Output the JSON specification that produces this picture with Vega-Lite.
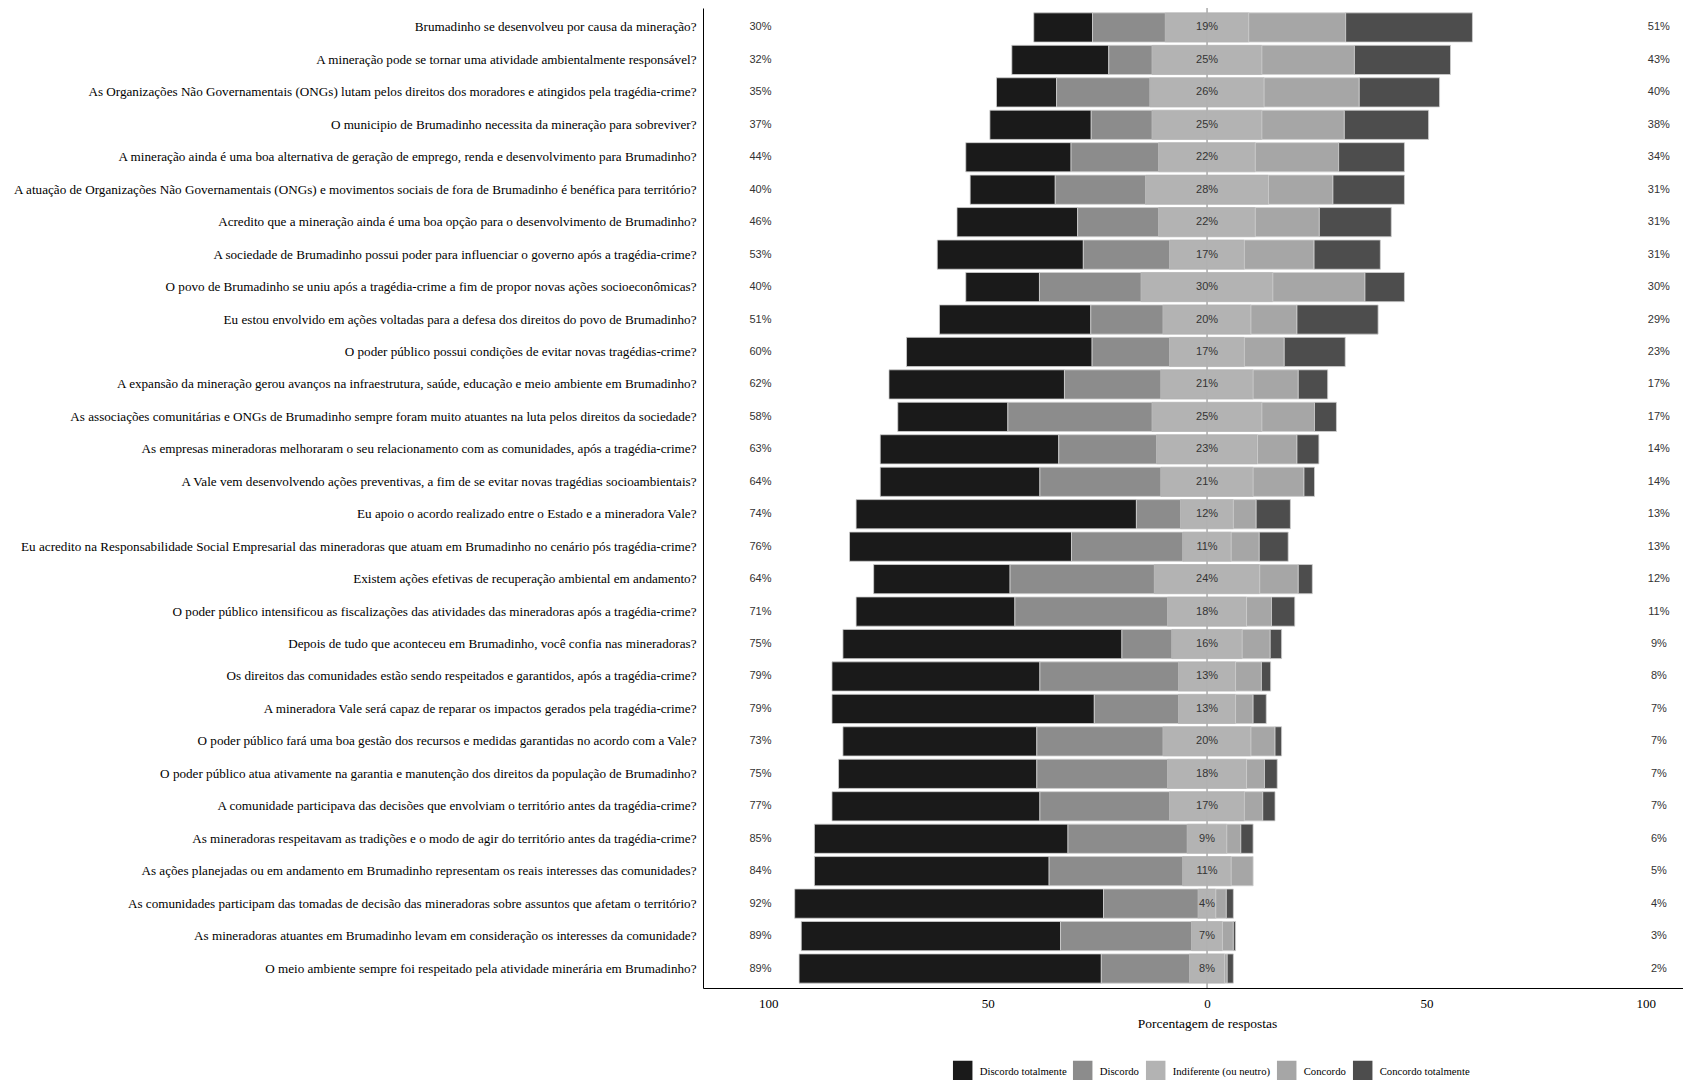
{
  "$schema": "https://vega.github.io/schema/vega-lite/v6.json",
  "width": 980,
  "height": 980,
  "autosize": {"type": "none"},
  "padding": {"left": 703, "top": 8, "right": 0, "bottom": 92},
  "background": "white",
  "config": {"view": {"stroke": null}, "font": "Liberation Serif"},
  "datasets": {
    "niveis": [
      {"n": 1, "r": "Discordo totalmente"},
      {"n": 2, "r": "Discordo"},
      {"n": 3, "r": "Indiferente (ou neutro)"},
      {"n": 4, "r": "Concordo"},
      {"n": 5, "r": "Concordo totalmente"}
    ],
    "questoes": [
      {"id": 1, "q": "Brumadinho se desenvolveu por causa da mineração?", "esq": "30%", "neu": "19%", "dir": "51%"},
      {"id": 2, "q": "A mineração pode se tornar uma atividade ambientalmente responsável?", "esq": "32%", "neu": "25%", "dir": "43%"},
      {"id": 3, "q": "As Organizações Não Governamentais (ONGs) lutam pelos direitos dos moradores e atingidos pela tragédia-crime?", "esq": "35%", "neu": "26%", "dir": "40%"},
      {"id": 4, "q": "O municipio de Brumadinho necessita da mineração para sobreviver?", "esq": "37%", "neu": "25%", "dir": "38%"},
      {"id": 5, "q": "A mineração ainda é uma boa alternativa de geração de emprego, renda e desenvolvimento para Brumadinho?", "esq": "44%", "neu": "22%", "dir": "34%"},
      {"id": 6, "q": "A atuação de Organizações Não Governamentais (ONGs) e movimentos sociais de fora de Brumadinho é benéfica para território?", "esq": "40%", "neu": "28%", "dir": "31%"},
      {"id": 7, "q": "Acredito que a mineração ainda é uma boa opção para o desenvolvimento de Brumadinho?", "esq": "46%", "neu": "22%", "dir": "31%"},
      {"id": 8, "q": "A sociedade de Brumadinho possui poder para influenciar o governo após a tragédia-crime?", "esq": "53%", "neu": "17%", "dir": "31%"},
      {"id": 9, "q": "O povo de Brumadinho se uniu após a tragédia-crime a fim de propor novas ações socioeconômicas?", "esq": "40%", "neu": "30%", "dir": "30%"},
      {"id": 10, "q": "Eu estou envolvido em ações voltadas para a defesa dos direitos do povo de Brumadinho?", "esq": "51%", "neu": "20%", "dir": "29%"},
      {"id": 11, "q": "O poder público possui condições de evitar novas tragédias-crime?", "esq": "60%", "neu": "17%", "dir": "23%"},
      {"id": 12, "q": "A expansão da mineração gerou avanços na infraestrutura, saúde, educação e meio ambiente em Brumadinho?", "esq": "62%", "neu": "21%", "dir": "17%"},
      {"id": 13, "q": "As associações comunitárias e ONGs de Brumadinho sempre foram muito atuantes na luta pelos direitos da sociedade?", "esq": "58%", "neu": "25%", "dir": "17%"},
      {"id": 14, "q": "As empresas mineradoras melhoraram o seu relacionamento com as comunidades, após a tragédia-crime?", "esq": "63%", "neu": "23%", "dir": "14%"},
      {"id": 15, "q": "A Vale vem desenvolvendo ações preventivas, a fim de se evitar novas tragédias socioambientais?", "esq": "64%", "neu": "21%", "dir": "14%"},
      {"id": 16, "q": "Eu apoio o acordo realizado entre o Estado e a mineradora Vale?", "esq": "74%", "neu": "12%", "dir": "13%"},
      {"id": 17, "q": "Eu acredito na Responsabilidade Social Empresarial das mineradoras que atuam em Brumadinho no cenário pós tragédia-crime?", "esq": "76%", "neu": "11%", "dir": "13%"},
      {"id": 18, "q": "Existem ações efetivas de recuperação ambiental em andamento?", "esq": "64%", "neu": "24%", "dir": "12%"},
      {"id": 19, "q": "O poder público intensificou as fiscalizações das atividades das mineradoras após a tragédia-crime?", "esq": "71%", "neu": "18%", "dir": "11%"},
      {"id": 20, "q": "Depois de tudo que aconteceu em Brumadinho, você confia nas mineradoras?", "esq": "75%", "neu": "16%", "dir": "9%"},
      {"id": 21, "q": "Os direitos das comunidades estão sendo respeitados e garantidos, após a tragédia-crime?", "esq": "79%", "neu": "13%", "dir": "8%"},
      {"id": 22, "q": "A mineradora Vale será capaz de reparar os impactos gerados pela tragédia-crime?", "esq": "79%", "neu": "13%", "dir": "7%"},
      {"id": 23, "q": "O poder público fará uma boa gestão dos recursos e medidas garantidas no acordo com a Vale?", "esq": "73%", "neu": "20%", "dir": "7%"},
      {"id": 24, "q": "O poder público atua ativamente na garantia e manutenção dos direitos da população de Brumadinho?", "esq": "75%", "neu": "18%", "dir": "7%"},
      {"id": 25, "q": "A comunidade participava das decisões que envolviam o território antes da tragédia-crime?", "esq": "77%", "neu": "17%", "dir": "7%"},
      {"id": 26, "q": "As mineradoras respeitavam as tradições e o modo de agir do território antes da tragédia-crime?", "esq": "85%", "neu": "9%", "dir": "6%"},
      {"id": 27, "q": "As ações planejadas ou em andamento em Brumadinho representam os reais interesses das comunidades?", "esq": "84%", "neu": "11%", "dir": "5%"},
      {"id": 28, "q": "As comunidades participam das tomadas de decisão das mineradoras sobre assuntos que afetam o território?", "esq": "92%", "neu": "4%", "dir": "4%"},
      {"id": 29, "q": "As mineradoras atuantes em Brumadinho levam em consideração os interesses da comunidade?", "esq": "89%", "neu": "7%", "dir": "3%"},
      {"id": 30, "q": "O meio ambiente sempre foi respeitado pela atividade minerária em Brumadinho?", "esq": "89%", "neu": "8%", "dir": "2%"}
    ],
    "respostas": [
      {"id": 1, "n": 1, "v": -13.4}, {"id": 1, "n": 2, "v": -16.6}, {"id": 1, "n": 3, "v": -9.5}, {"id": 1, "n": 3, "v": 9.5}, {"id": 1, "n": 4, "v": 22.1}, {"id": 1, "n": 5, "v": 28.9},
      {"id": 2, "n": 1, "v": -22.1}, {"id": 2, "n": 2, "v": -9.9}, {"id": 2, "n": 3, "v": -12.5}, {"id": 2, "n": 3, "v": 12.5}, {"id": 2, "n": 4, "v": 21.1}, {"id": 2, "n": 5, "v": 21.9},
      {"id": 3, "n": 1, "v": -13.7}, {"id": 3, "n": 2, "v": -21.3}, {"id": 3, "n": 3, "v": -13}, {"id": 3, "n": 3, "v": 13}, {"id": 3, "n": 4, "v": 21.7}, {"id": 3, "n": 5, "v": 18.3},
      {"id": 4, "n": 1, "v": -23.1}, {"id": 4, "n": 2, "v": -13.9}, {"id": 4, "n": 3, "v": -12.5}, {"id": 4, "n": 3, "v": 12.5}, {"id": 4, "n": 4, "v": 18.8}, {"id": 4, "n": 5, "v": 19.2},
      {"id": 5, "n": 1, "v": -24}, {"id": 5, "n": 2, "v": -20}, {"id": 5, "n": 3, "v": -11}, {"id": 5, "n": 3, "v": 11}, {"id": 5, "n": 4, "v": 19}, {"id": 5, "n": 5, "v": 15},
      {"id": 6, "n": 1, "v": -19.4}, {"id": 6, "n": 2, "v": -20.6}, {"id": 6, "n": 3, "v": -14}, {"id": 6, "n": 3, "v": 14}, {"id": 6, "n": 4, "v": 14.7}, {"id": 6, "n": 5, "v": 16.3},
      {"id": 7, "n": 1, "v": -27.5}, {"id": 7, "n": 2, "v": -18.5}, {"id": 7, "n": 3, "v": -11}, {"id": 7, "n": 3, "v": 11}, {"id": 7, "n": 4, "v": 14.6}, {"id": 7, "n": 5, "v": 16.4},
      {"id": 8, "n": 1, "v": -33.3}, {"id": 8, "n": 2, "v": -19.7}, {"id": 8, "n": 3, "v": -8.5}, {"id": 8, "n": 3, "v": 8.5}, {"id": 8, "n": 4, "v": 15.9}, {"id": 8, "n": 5, "v": 15.1},
      {"id": 9, "n": 1, "v": -16.8}, {"id": 9, "n": 2, "v": -23.2}, {"id": 9, "n": 3, "v": -15}, {"id": 9, "n": 3, "v": 15}, {"id": 9, "n": 4, "v": 21}, {"id": 9, "n": 5, "v": 9},
      {"id": 10, "n": 1, "v": -34.5}, {"id": 10, "n": 2, "v": -16.5}, {"id": 10, "n": 3, "v": -10}, {"id": 10, "n": 3, "v": 10}, {"id": 10, "n": 4, "v": 10.5}, {"id": 10, "n": 5, "v": 18.5},
      {"id": 11, "n": 1, "v": -42.3}, {"id": 11, "n": 2, "v": -17.7}, {"id": 11, "n": 3, "v": -8.5}, {"id": 11, "n": 3, "v": 8.5}, {"id": 11, "n": 4, "v": 9.1}, {"id": 11, "n": 5, "v": 13.9},
      {"id": 12, "n": 1, "v": -40}, {"id": 12, "n": 2, "v": -22}, {"id": 12, "n": 3, "v": -10.5}, {"id": 12, "n": 3, "v": 10.5}, {"id": 12, "n": 4, "v": 10.3}, {"id": 12, "n": 5, "v": 6.7},
      {"id": 13, "n": 1, "v": -25.1}, {"id": 13, "n": 2, "v": -32.9}, {"id": 13, "n": 3, "v": -12.5}, {"id": 13, "n": 3, "v": 12.5}, {"id": 13, "n": 4, "v": 12}, {"id": 13, "n": 5, "v": 5},
      {"id": 14, "n": 1, "v": -40.7}, {"id": 14, "n": 2, "v": -22.3}, {"id": 14, "n": 3, "v": -11.5}, {"id": 14, "n": 3, "v": 11.5}, {"id": 14, "n": 4, "v": 9}, {"id": 14, "n": 5, "v": 5},
      {"id": 15, "n": 1, "v": -36.4}, {"id": 15, "n": 2, "v": -27.6}, {"id": 15, "n": 3, "v": -10.5}, {"id": 15, "n": 3, "v": 10.5}, {"id": 15, "n": 4, "v": 11.6}, {"id": 15, "n": 5, "v": 2.4},
      {"id": 16, "n": 1, "v": -63.9}, {"id": 16, "n": 2, "v": -10.1}, {"id": 16, "n": 3, "v": -6}, {"id": 16, "n": 3, "v": 6}, {"id": 16, "n": 4, "v": 5.2}, {"id": 16, "n": 5, "v": 7.8},
      {"id": 17, "n": 1, "v": -50.6}, {"id": 17, "n": 2, "v": -25.4}, {"id": 17, "n": 3, "v": -5.5}, {"id": 17, "n": 3, "v": 5.5}, {"id": 17, "n": 4, "v": 6.4}, {"id": 17, "n": 5, "v": 6.6},
      {"id": 18, "n": 1, "v": -31.1}, {"id": 18, "n": 2, "v": -32.9}, {"id": 18, "n": 3, "v": -12}, {"id": 18, "n": 3, "v": 12}, {"id": 18, "n": 4, "v": 8.8}, {"id": 18, "n": 5, "v": 3.2},
      {"id": 19, "n": 1, "v": -36.2}, {"id": 19, "n": 2, "v": -34.8}, {"id": 19, "n": 3, "v": -9}, {"id": 19, "n": 3, "v": 9}, {"id": 19, "n": 4, "v": 5.7}, {"id": 19, "n": 5, "v": 5.3},
      {"id": 20, "n": 1, "v": -63.6}, {"id": 20, "n": 2, "v": -11.4}, {"id": 20, "n": 3, "v": -8}, {"id": 20, "n": 3, "v": 8}, {"id": 20, "n": 4, "v": 6.4}, {"id": 20, "n": 5, "v": 2.6},
      {"id": 21, "n": 1, "v": -47.4}, {"id": 21, "n": 2, "v": -31.6}, {"id": 21, "n": 3, "v": -6.5}, {"id": 21, "n": 3, "v": 6.5}, {"id": 21, "n": 4, "v": 5.9}, {"id": 21, "n": 5, "v": 2.1},
      {"id": 22, "n": 1, "v": -59.8}, {"id": 22, "n": 2, "v": -19.2}, {"id": 22, "n": 3, "v": -6.5}, {"id": 22, "n": 3, "v": 6.5}, {"id": 22, "n": 4, "v": 4}, {"id": 22, "n": 5, "v": 3},
      {"id": 23, "n": 1, "v": -44.2}, {"id": 23, "n": 2, "v": -28.8}, {"id": 23, "n": 3, "v": -10}, {"id": 23, "n": 3, "v": 10}, {"id": 23, "n": 4, "v": 5.5}, {"id": 23, "n": 5, "v": 1.5},
      {"id": 24, "n": 1, "v": -45.2}, {"id": 24, "n": 2, "v": -29.8}, {"id": 24, "n": 3, "v": -9}, {"id": 24, "n": 3, "v": 9}, {"id": 24, "n": 4, "v": 4.1}, {"id": 24, "n": 5, "v": 2.9},
      {"id": 25, "n": 1, "v": -47.4}, {"id": 25, "n": 2, "v": -29.6}, {"id": 25, "n": 3, "v": -8.5}, {"id": 25, "n": 3, "v": 8.5}, {"id": 25, "n": 4, "v": 4.2}, {"id": 25, "n": 5, "v": 2.8},
      {"id": 26, "n": 1, "v": -57.8}, {"id": 26, "n": 2, "v": -27.2}, {"id": 26, "n": 3, "v": -4.5}, {"id": 26, "n": 3, "v": 4.5}, {"id": 26, "n": 4, "v": 3.2}, {"id": 26, "n": 5, "v": 2.8},
      {"id": 27, "n": 1, "v": -53.5}, {"id": 27, "n": 2, "v": -30.5}, {"id": 27, "n": 3, "v": -5.5}, {"id": 27, "n": 3, "v": 5.5}, {"id": 27, "n": 4, "v": 5}, {"id": 27, "n": 5, "v": 0},
      {"id": 28, "n": 1, "v": -70.4}, {"id": 28, "n": 2, "v": -21.6}, {"id": 28, "n": 3, "v": -2}, {"id": 28, "n": 3, "v": 2}, {"id": 28, "n": 4, "v": 2.4}, {"id": 28, "n": 5, "v": 1.6},
      {"id": 29, "n": 1, "v": -59.1}, {"id": 29, "n": 2, "v": -29.9}, {"id": 29, "n": 3, "v": -3.5}, {"id": 29, "n": 3, "v": 3.5}, {"id": 29, "n": 4, "v": 2.5}, {"id": 29, "n": 5, "v": 0.5},
      {"id": 30, "n": 1, "v": -68.9}, {"id": 30, "n": 2, "v": -20.1}, {"id": 30, "n": 3, "v": -4}, {"id": 30, "n": 3, "v": 4}, {"id": 30, "n": 4, "v": 0.6}, {"id": 30, "n": 5, "v": 1.4}
    ]
  },
  "layer": [
    {
      "data": {"values": [{"zero": 0}]},
      "mark": {"type": "rule", "color": "#7f7f7f", "strokeWidth": 1},
      "encoding": {"x": {"field": "zero", "type": "quantitative"}}
    },
    {
      "encoding": {
        "y": {
          "field": "q",
          "type": "nominal",
          "title": null,
          "scale": {
            "paddingInner": 0.1,
            "paddingOuter": 0.15,
            "domain": [
              "Brumadinho se desenvolveu por causa da mineração?",
              "A mineração pode se tornar uma atividade ambientalmente responsável?",
              "As Organizações Não Governamentais (ONGs) lutam pelos direitos dos moradores e atingidos pela tragédia-crime?",
              "O municipio de Brumadinho necessita da mineração para sobreviver?",
              "A mineração ainda é uma boa alternativa de geração de emprego, renda e desenvolvimento para Brumadinho?",
              "A atuação de Organizações Não Governamentais (ONGs) e movimentos sociais de fora de Brumadinho é benéfica para território?",
              "Acredito que a mineração ainda é uma boa opção para o desenvolvimento de Brumadinho?",
              "A sociedade de Brumadinho possui poder para influenciar o governo após a tragédia-crime?",
              "O povo de Brumadinho se uniu após a tragédia-crime a fim de propor novas ações socioeconômicas?",
              "Eu estou envolvido em ações voltadas para a defesa dos direitos do povo de Brumadinho?",
              "O poder público possui condições de evitar novas tragédias-crime?",
              "A expansão da mineração gerou avanços na infraestrutura, saúde, educação e meio ambiente em Brumadinho?",
              "As associações comunitárias e ONGs de Brumadinho sempre foram muito atuantes na luta pelos direitos da sociedade?",
              "As empresas mineradoras melhoraram o seu relacionamento com as comunidades, após a tragédia-crime?",
              "A Vale vem desenvolvendo ações preventivas, a fim de se evitar novas tragédias socioambientais?",
              "Eu apoio o acordo realizado entre o Estado e a mineradora Vale?",
              "Eu acredito na Responsabilidade Social Empresarial das mineradoras que atuam em Brumadinho no cenário pós tragédia-crime?",
              "Existem ações efetivas de recuperação ambiental em andamento?",
              "O poder público intensificou as fiscalizações das atividades das mineradoras após a tragédia-crime?",
              "Depois de tudo que aconteceu em Brumadinho, você confia nas mineradoras?",
              "Os direitos das comunidades estão sendo respeitados e garantidos, após a tragédia-crime?",
              "A mineradora Vale será capaz de reparar os impactos gerados pela tragédia-crime?",
              "O poder público fará uma boa gestão dos recursos e medidas garantidas no acordo com a Vale?",
              "O poder público atua ativamente na garantia e manutenção dos direitos da população de Brumadinho?",
              "A comunidade participava das decisões que envolviam o território antes da tragédia-crime?",
              "As mineradoras respeitavam as tradições e o modo de agir do território antes da tragédia-crime?",
              "As ações planejadas ou em andamento em Brumadinho representam os reais interesses das comunidades?",
              "As comunidades participam das tomadas de decisão das mineradoras sobre assuntos que afetam o território?",
              "As mineradoras atuantes em Brumadinho levam em consideração os interesses da comunidade?",
              "O meio ambiente sempre foi respeitado pela atividade minerária em Brumadinho?"
            ]
          },
          "axis": {
            "domain": true,
            "domainColor": "#000000",
            "domainWidth": 1,
            "ticks": false,
            "grid": false,
            "labelPadding": 7,
            "labelFont": "Liberation Serif",
            "labelFontSize": 13.15,
            "labelColor": "#000000",
            "labelLimit": 900
          }
        }
      },
      "layer": [
        {
          "data": {"name": "respostas"},
          "transform": [
            {"filter": "datum.v < 0"},
            {"lookup": "n", "from": {"data": {"name": "niveis"}, "key": "n", "fields": ["r"]}},
            {"lookup": "id", "from": {"data": {"name": "questoes"}, "key": "id", "fields": ["q"]}}
          ],
          "mark": {"type": "bar", "strokeWidth": 0.8},
          "encoding": {
            "x": {
              "field": "v",
              "type": "quantitative",
              "stack": "zero",
              "title": "Porcentagem de respostas",
              "scale": {"domain": [-114.9, 108.5], "nice": false, "zero": false},
              "axis": {
                "values": [-100, -50, 0, 50, 100],
                "labelExpr": "abs(datum.value)",
                "grid": false,
                "ticks": false,
                "domain": true,
                "domainColor": "#000000",
                "domainWidth": 1,
                "labelFlush": false,
                "labelPadding": 9,
                "labelDx": -6,
                "labelFont": "Liberation Serif",
                "labelFontSize": 13,
                "labelColor": "#000000",
                "titleFont": "Liberation Serif",
                "titleFontSize": 13.5,
                "titleFontWeight": "normal",
                "titleColor": "#000000",
                "titlePadding": 6,
                "titleX": 504
              }
            },
            "color": {
              "field": "r",
              "type": "nominal",
              "scale": {
                "domain": ["Discordo totalmente", "Discordo", "Indiferente (ou neutro)", "Concordo", "Concordo totalmente"],
                "range": ["#1a1a1a", "#8c8c8c", "#b3b3b3", "#a6a6a6", "#4d4d4d"]
              },
              "legend": {
                "orient": "none",
                "legendX": 249.7,
                "legendY": 1054,
                "direction": "horizontal",
                "columns": 5,
                "title": null,
                "padding": 0,
                "symbolType": "M-1,-1.18H1V1.18H-1Z",
                "symbolSize": 380,
                "symbolStrokeWidth": 0,
                "symbolOpacity": 1,
                "labelFont": "Liberation Serif",
                "labelFontSize": 10.7,
                "labelColor": "#000000",
                "labelOffset": 7,
                "columnPadding": 6
              }
            },
            "stroke": {"condition": {"test": "datum.n == 3", "value": "#b3b3b3"}, "value": "#cfcfcf"},
            "order": {"field": "n", "sort": "descending"}
          }
        },
        {
          "data": {"name": "respostas"},
          "transform": [
            {"filter": "datum.v > 0"},
            {"lookup": "n", "from": {"data": {"name": "niveis"}, "key": "n", "fields": ["r"]}},
            {"lookup": "id", "from": {"data": {"name": "questoes"}, "key": "id", "fields": ["q"]}}
          ],
          "mark": {"type": "bar", "strokeWidth": 0.8},
          "encoding": {
            "x": {"field": "v", "type": "quantitative", "stack": "zero"},
            "color": {"field": "r", "type": "nominal"},
            "stroke": {"condition": {"test": "datum.n == 3", "value": "#b3b3b3"}, "value": "#cfcfcf"},
            "order": {"field": "n", "sort": "ascending"}
          }
        },
        {
          "data": {"name": "questoes"},
          "mark": {"type": "text", "font": "Liberation Sans", "fontSize": 11, "color": "#333333", "align": "center", "baseline": "middle"},
          "encoding": {
            "x": {"datum": -101.8, "type": "quantitative"},
            "text": {"field": "esq"}
          }
        },
        {
          "data": {"name": "questoes"},
          "mark": {"type": "text", "font": "Liberation Sans", "fontSize": 11, "color": "#333333", "align": "center", "baseline": "middle"},
          "encoding": {
            "x": {"datum": 0, "type": "quantitative"},
            "text": {"field": "neu"}
          }
        },
        {
          "data": {"name": "questoes"},
          "mark": {"type": "text", "font": "Liberation Sans", "fontSize": 11, "color": "#333333", "align": "center", "baseline": "middle"},
          "encoding": {
            "x": {"datum": 103, "type": "quantitative"},
            "text": {"field": "dir"}
          }
        }
      ]
    }
  ]
}
